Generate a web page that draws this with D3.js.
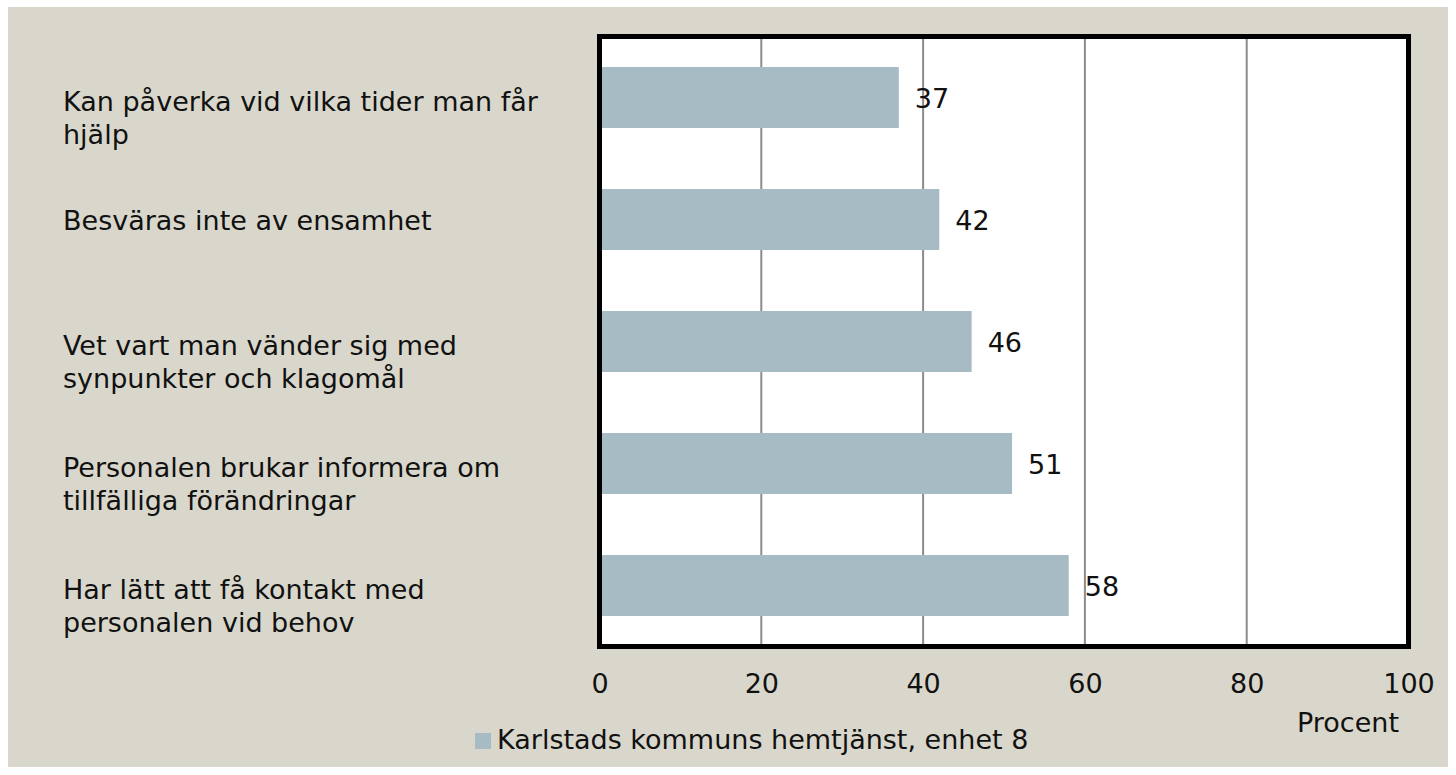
<!DOCTYPE html>
<html><head><meta charset="utf-8">
<script src="https://cdn.jsdelivr.net/npm/d3@7"></script>
<style>html,body{margin:0;padding:0;background:#fff}svg{display:block}</style>
</head><body>
<script>
const categories = [
  ["Kan påverka vid vilka tider man får", "hjälp"],
  ["Besväras inte av ensamhet"],
  ["Vet vart man vänder sig med", "synpunkter och klagomål"],
  ["Personalen brukar informera om", "tillfälliga förändringar"],
  ["Har lätt att få kontakt med", "personalen vid behov"]
];
const values = [37, 42, 46, 51, 58];
const ticks = [0, 20, 40, 60, 80, 100];
const seriesName = "Karlstads kommuns hemtjänst, enhet 8";
const axisTitle = "Procent";

const W = 1456, H = 775;
const FONT = "'DejaVu Sans', sans-serif";
const FS = 27;
const svg = d3.select("body").append("svg").attr("width", W).attr("height", H);
svg.append("rect").attr("x", 8).attr("y", 7).attr("width", 1440).attr("height", 760).attr("fill", "#d9d7cb");

const x = d3.scaleLinear().domain([0, 100]).range([599.5, 1408.5]);
const y = d3.scaleBand().domain(d3.range(categories.length)).range([36.5, 646.5])
  .paddingInner(0.5).paddingOuter(0.25);

svg.append("rect").attr("x", x(0)).attr("y", 36.5).attr("width", x(100) - x(0)).attr("height", 610).attr("fill", "#fff");

svg.append("g").selectAll("line").data(ticks.slice(1, -1)).join("line")
  .attr("x1", d => x(d)).attr("x2", d => x(d)).attr("y1", 36.5).attr("y2", 646.5)
  .attr("stroke", "#8c8c8c").attr("stroke-width", 2);

svg.append("g").selectAll("rect").data(values).join("rect")
  .attr("x", x(0)).attr("y", (d, i) => y(i)).attr("width", d => x(d) - x(0)).attr("height", y.bandwidth())
  .attr("fill", "#a7bbc5");

svg.append("rect").attr("x", x(0)).attr("y", 36.5).attr("width", x(100) - x(0)).attr("height", 610)
  .attr("fill", "none").attr("stroke", "#000").attr("stroke-width", 5);

svg.append("g").selectAll("text").data(values).join("text")
  .attr("x", d => x(d) + 16).attr("y", (d, i) => y(i) + y.bandwidth() / 2 + 10)
  .attr("font-family", FONT).attr("font-size", FS).attr("fill", "#111").text(d => d);

// x axis tick labels
const axis = d3.axisBottom(x).tickValues(ticks).tickSize(0).tickPadding(0);
const ga = svg.append("g").attr("transform", "translate(0,693)").call(axis);
ga.select(".domain").remove();
ga.selectAll("text").attr("dy", 0).attr("font-family", FONT).attr("font-size", FS).attr("fill", "#111");

svg.append("text").attr("x", 1399).attr("y", 732).attr("text-anchor", "end")
  .attr("font-family", FONT).attr("font-size", FS).attr("fill", "#111").text(axisTitle);

// category labels
const cg = svg.append("g").selectAll("text").data(categories).join("text")
  .attr("font-family", FONT).attr("font-size", FS).attr("fill", "#111");
cg.each(function(lines, i) {
  const c = y(i) + y.bandwidth() / 2;
  const base = lines.length > 1 ? c + 13 : c + 10;
  d3.select(this).selectAll("tspan").data(lines).join("tspan")
    .attr("x", 63).attr("y", (d, j) => base + j * 33).text(d => d);
});

// legend
svg.append("rect").attr("x", 475).attr("y", 733).attr("width", 16).attr("height", 16).attr("fill", "#a7bbc5");
svg.append("text").attr("x", 497).attr("y", 749).attr("font-family", FONT).attr("font-size", FS).attr("fill", "#111").text(seriesName);
</script>
</body></html>
